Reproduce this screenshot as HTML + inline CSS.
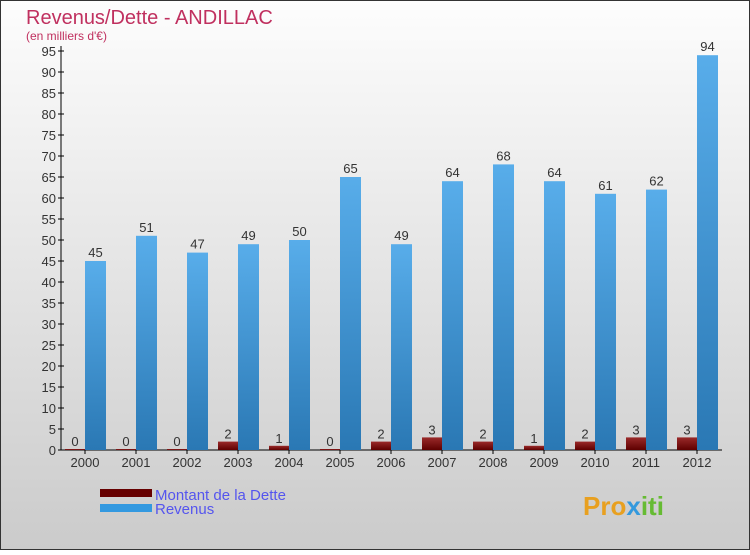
<!DOCTYPE html>
<html><head><meta charset="utf-8"><style>
body{margin:0;width:750px;height:550px;overflow:hidden;font-family:"Liberation Sans",sans-serif}
</style></head><body>
<svg width="750" height="550" xmlns="http://www.w3.org/2000/svg">
<defs>
<linearGradient id="bg" x1="0" y1="0" x2="0" y2="1"><stop offset="0" stop-color="#fdfdfd"/><stop offset="1" stop-color="#cbcbcb"/></linearGradient>
<linearGradient id="rev" x1="0" y1="0" x2="0" y2="1"><stop offset="0" stop-color="#58adea"/><stop offset="1" stop-color="#2a78b4"/></linearGradient>
<linearGradient id="debt" x1="0" y1="0" x2="0" y2="1"><stop offset="0" stop-color="#9a2a2a"/><stop offset="1" stop-color="#5e0000"/></linearGradient>
</defs>
<rect x="0.5" y="0.5" width="749" height="549" fill="url(#bg)" stroke="#333"/>
<text x="26" y="24" font-size="20" fill="#c0305f">Revenus/Dette - ANDILLAC</text>
<text x="26" y="40" font-size="12" fill="#c0305f">(en milliers d'€)</text>
<g id="axes"></g>
<g id="bars"></g>
<g>
<rect x="100" y="489" width="52" height="8" fill="#660000"/>
<text x="155" y="500" font-size="15" fill="#5555ee">Montant de la Dette</text>
<rect x="100" y="504" width="52" height="8" fill="#3399e0"/>
<text x="155" y="514" font-size="15" fill="#5555ee">Revenus</text>
</g>
<text x="583" y="515" font-size="26" font-weight="bold" fill="#e8a020">Pro<tspan fill="#3399dd">x</tspan><tspan fill="#66bb33">iti</tspan></text>
</svg>
<script>
const years=["2000","2001","2002","2003","2004","2005","2006","2007","2008","2009","2010","2011","2012"];
const revenus=[45,51,47,49,50,65,49,64,68,64,61,62,94];
const dette=[0,0,0,2,1,0,2,3,2,1,2,3,3];
const yTicks=[0,5,10,15,20,25,30,35,40,45,50,55,60,65,70,75,80,85,90,95];
const NS="http://www.w3.org/2000/svg";
const y0=450,yTop=51,x0=85,step=51;
const yS=v=>y0-(v/95)*(y0-yTop);
const xS=i=>x0+i*step;
function mk(tag,at,parent){const e=document.createElementNS(NS,tag);for(const k in at)e.setAttribute(k,at[k]);parent.appendChild(e);return e;}
const ax=document.getElementById('axes'),bg=document.getElementById('bars');
let l=mk('line',{x1:61,y1:yTop-5,x2:61,y2:y0,stroke:'#000'},ax);


l=mk('line',{x1:61,y1:y0,x2:722,y2:y0,stroke:'#000'},ax);


yTicks.forEach(v=>{
 const t=mk('line',{x1:58,y1:yS(v),x2:64,y2:yS(v),stroke:'#000'},ax);
 
 
 const tx=mk('text',{x:56,y:yS(v)+5,'font-size':13,'text-anchor':'end',fill:'#333'},ax);
 tx.textContent=v;
 
 
});
years.forEach((yr,i)=>{
 const c=xS(i);
 const tk=mk('line',{x1:c,y1:y0,x2:c,y2:y0+4,stroke:'#000'},ax);
 
 
 const tx=mk('text',{x:c,y:y0+17,'font-size':13,'text-anchor':'middle',fill:'#333'},ax);
 tx.textContent=yr;
 
 
 const dh=Math.max(1,y0-yS(dette[i]));
 const d=mk('rect',{x:c-20,y:y0-dh,width:20,height:dh,fill:'url(#debt)'},bg);
 
 
 const dl=mk('text',{x:c-10,y:y0-dh-3,'font-size':13,'text-anchor':'middle',fill:'#333'},bg);
 dl.textContent=dette[i];
 
 
 const r=mk('rect',{x:c,y:yS(revenus[i]),width:21,height:y0-yS(revenus[i]),fill:'url(#rev)'},bg);
 
 
 const rl=mk('text',{x:c+10.5,y:yS(revenus[i])-4,'font-size':13,'text-anchor':'middle',fill:'#333'},bg);
 rl.textContent=revenus[i];
 
 
});
</script>
</body></html>
